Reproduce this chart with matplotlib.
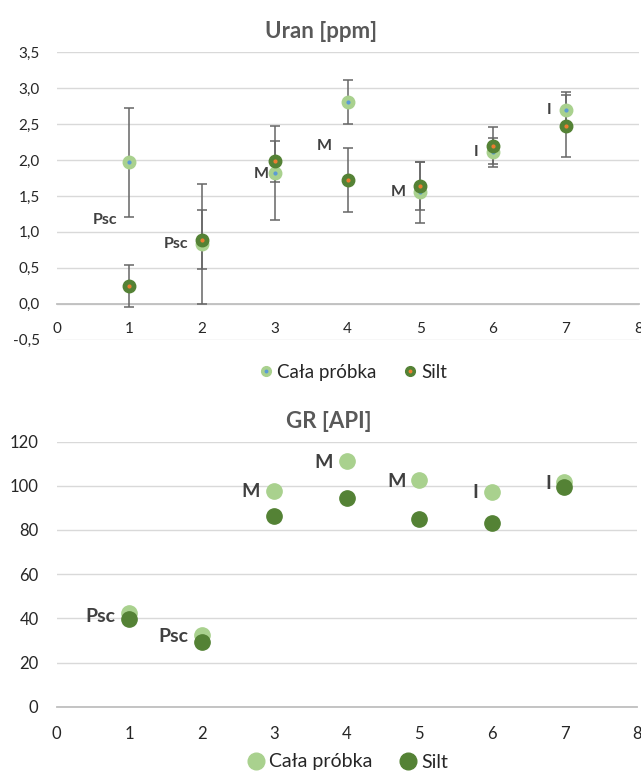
import matplotlib
matplotlib.use('Agg')
import matplotlib.pyplot as plt
from matplotlib.lines import Line2D
from matplotlib.legend_handler import HandlerTuple
from matplotlib.ticker import FuncFormatter

plt.rcParams['font.family'] = ['Lato', 'DejaVu Sans']

# ---- data ----
samples = [1, 2, 3, 4, 5, 6, 7]
layer_labels = ['Psc', 'Psc', 'M', 'M', 'M', 'I', 'I']
series_names = ['Cała próbka', 'Silt']

uran_cala = [1.97, 0.83, 1.82, 2.81, 1.55, 2.11, 2.70]
uran_cala_err = [0.76, 0.84, 0.65, 0.31, 0.42, 0.20, 0.25]
uran_silt = [0.25, 0.89, 1.98, 1.72, 1.64, 2.20, 2.47]
uran_silt_err = [0.29, 0.41, 0.28, 0.45, 0.33, 0.26, 0.43]

gr_cala = [42.4, 32.6, 97.7, 111.1, 102.6, 97.0, 101.8]
gr_silt = [39.7, 29.1, 86.5, 94.4, 84.9, 83.2, 99.3]

# label placement (data coords) - layout only
uran_label_xy = [(0.67, 1.17), (1.64, 0.83), (2.81, 1.81), (3.68, 2.20),
                 (4.70, 1.56), (5.77, 2.11), (6.77, 2.70)]
gr_label_xy = [(0.60, 40.9), (1.61, 31.8), (2.67, 97.6), (3.68, 110.3),
               (4.68, 101.8), (5.77, 96.7), (6.78, 101.2)]

LIGHT = '#A9D18E'
DARK = '#548235'
DOT1 = '#5B9BD5'
DOT2 = '#ED7D31'
GRID = '#D9D9D9'
AXIS = '#BFBFBF'
TXT = '#262626'
LBL = '#404040'
TITLE = '#595959'
ERR = '#666666'

W, H = 641, 771
fig = plt.figure(figsize=(W / 100, H / 100), dpi=100)

def px_axes(l, r, t, b):
    return fig.add_axes([l / W, 1 - b / H, (r - l) / W, (b - t) / H])

comma = FuncFormatter(lambda v, p: f'{v:.1f}'.replace('.', ','))

# ---- top chart ----
ax1 = px_axes(56.6, 638.5, 52.3, 339.6)
ax1.set_xlim(0, 8)
ax1.set_ylim(-0.5, 3.5)
ax1.set_yticks([-0.5, 0, 0.5, 1, 1.5, 2, 2.5, 3, 3.5])
ax1.set_xticks(range(0, 9))
ax1.yaxis.set_major_formatter(comma)
ax1.grid(axis='y', color=GRID, lw=1)
ax1.set_axisbelow(True)
for s in ['top', 'right', 'left']:
    ax1.spines[s].set_visible(False)
ax1.spines['bottom'].set_position(('data', 0))
ax1.spines['bottom'].set_color(AXIS)
ax1.spines['bottom'].set_linewidth(1.3)
ax1.tick_params(axis='both', length=0, labelsize=11, labelcolor=TXT)
ax1.tick_params(axis='x', pad=13)
ax1.tick_params(axis='y', pad=12)

ax1.errorbar(samples, uran_cala, yerr=uran_cala_err, fmt='none', ecolor=ERR,
             elinewidth=1.1, capsize=3.5, capthick=1.1, zorder=3)
ax1.errorbar(samples, uran_silt, yerr=uran_silt_err, fmt='none', ecolor=ERR,
             elinewidth=1.1, capsize=3.5, capthick=1.1, zorder=3)
ax1.plot(samples, uran_cala, 'o', ms=9, color=LIGHT, mec=LIGHT, zorder=4)
ax1.plot(samples, uran_cala, 'o', ms=2, color=DOT1, mec=DOT1, zorder=5)
ax1.plot(samples, uran_silt, 'o', ms=9, color=DARK, mec=DARK, zorder=6)
ax1.plot(samples, uran_silt, 'o', ms=2, color=DOT2, mec=DOT2, zorder=7)
for lab, (lx, ly) in zip(layer_labels, uran_label_xy):
    ax1.text(lx, ly, lab, ha='center', va='center', fontsize=11.5,
             fontweight='bold', color=LBL, zorder=8)
ax1.set_title('Uran [ppm]', fontsize=16, fontweight='bold', color=TITLE,
              pad=10, x=0.454)

h1 = (Line2D([], [], ls='', marker='o', ms=7, color=LIGHT),
      Line2D([], [], ls='', marker='o', ms=1.8, color=DOT1))
h2 = (Line2D([], [], ls='', marker='o', ms=7, color=DARK),
      Line2D([], [], ls='', marker='o', ms=1.8, color=DOT2))
fig.legend([h1, h2], series_names, loc='center', ncol=2,
           bbox_to_anchor=(354 / W, 1 - 372 / H), frameon=False,
           fontsize=13.5, handler_map={tuple: HandlerTuple(ndivide=1)},
           handlelength=0.6, handletextpad=0.3, columnspacing=1.5,
           labelcolor=TXT)

# ---- bottom chart ----
ax2 = px_axes(56.6, 637, 441.5, 706.7)
ax2.set_xlim(0, 8)
ax2.set_ylim(0, 120)
ax2.set_yticks(range(0, 121, 20))
ax2.set_xticks(range(0, 9))
ax2.grid(axis='y', color=GRID, lw=1)
ax2.set_axisbelow(True)
for s in ['top', 'right', 'left']:
    ax2.spines[s].set_visible(False)
ax2.spines['bottom'].set_color(AXIS)
ax2.spines['bottom'].set_linewidth(1.3)
ax2.tick_params(axis='both', length=0, labelsize=12, labelcolor=TXT)
ax2.tick_params(axis='x', pad=14)
ax2.tick_params(axis='y', pad=13)

ax2.plot(samples, gr_cala, 'o', ms=11, color=LIGHT, mec=LIGHT, zorder=4)
ax2.plot(samples, gr_silt, 'o', ms=11, color=DARK, mec=DARK, zorder=5)
for lab, (lx, ly) in zip(layer_labels, gr_label_xy):
    ax2.text(lx, ly, lab, ha='center', va='center', fontsize=14,
             fontweight='bold', color=LBL, zorder=8)
ax2.set_title('GR [API]', fontsize=16, fontweight='bold', color=TITLE,
              pad=10, x=0.469)

g1 = Line2D([], [], ls='', marker='o', ms=12, color=LIGHT)
g2 = Line2D([], [], ls='', marker='o', ms=12, color=DARK)
fig.legend([g1, g2], series_names, loc='center', ncol=2,
           bbox_to_anchor=(348 / W, 1 - 762 / H), frameon=False,
           fontsize=14, handlelength=0.8, handletextpad=0.3,
           columnspacing=1.4, labelcolor=TXT)

fig.savefig('out.png', dpi=100)
